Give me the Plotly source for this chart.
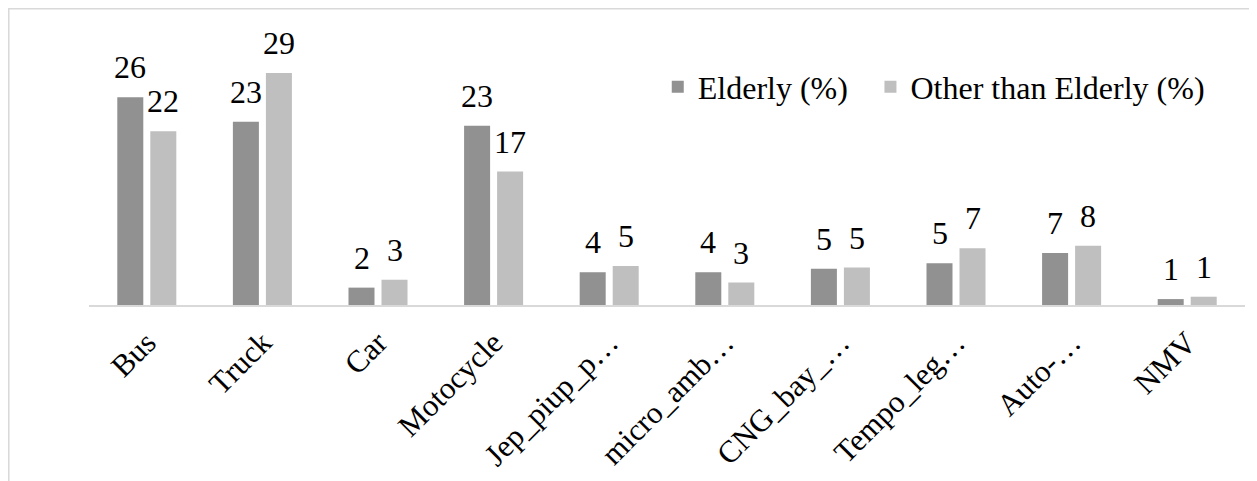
import plotly.graph_objects as go

categories = ["Bus", "Truck", "Car", "Motocycle", "Jep_piup_p…", "micro_amb…",
              "CNG_bay_…", "Tempo_leg…", "Auto-…", "NMV"]
elderly = [26.3, 23.2, 2.2, 22.7, 4.15, 4.15, 4.6, 5.3, 6.6, 0.75]
other = [22.0, 29.4, 3.2, 16.9, 4.95, 2.85, 4.75, 7.2, 7.5, 1.05]
series_names = ["Elderly (%)", "Other than Elderly (%)"]
colors = ["#919191", "#bfbfbf"]

FONT = "Times New Roman, Liberation Serif, serif"
FS = 32
TICK_FS = 31

fig = go.Figure()
for name, vals, col, lg in zip(series_names, [elderly, other], colors, ["legend", "legend2"]):
    fig.add_trace(go.Bar(x=categories, y=vals, name=name, marker_color=col,
                         marker_line_width=0, legend=lg))

annos = []
for vals, shift in [(elderly, -16.5), (other, 16.5)]:
    for c, v in zip(categories, vals):
        annos.append(dict(x=c, y=v, xref="x", yref="y", text=f"{v:.0f}",
                          showarrow=False, yanchor="bottom", xanchor="center",
                          xshift=shift, yshift=10,
                          font=dict(family=FONT, size=FS, color="#000000")))

leg_common = dict(orientation="h", xanchor="left", yanchor="middle",
                  bgcolor="rgba(0,0,0,0)", borderwidth=0,
                  font=dict(family=FONT, size=FS, color="#000000"))

fig.update_layout(
    width=1249, height=473,
    margin=dict(l=81, r=12, t=12, b=176, autoexpand=False),
    paper_bgcolor="white", plot_bgcolor="white",
    barmode="group", bargap=0.429, bargroupgap=0.212,
    font=dict(family=FONT, size=FS, color="#000000"),
    showlegend=True,
    legend=dict(x=0.492, y=0.765, **leg_common),
    legend2=dict(x=0.676, y=0.765, **leg_common),
    annotations=annos,
    shapes=[dict(type="rect", xref="paper", yref="paper",
                 x0=-0.0696, x1=1.0087, y0=-0.75, y1=1.040,
                 line=dict(color="#d9d9d9", width=2), fillcolor="rgba(0,0,0,0)",
                 layer="below")],
)
fig.update_xaxes(showline=True, linecolor="#d9d9d9", linewidth=2, ticks="",
                 tickangle=-45, showgrid=False, zeroline=False, automargin=False,
                 ticklabelstandoff=5,
                 tickfont=dict(family=FONT, size=TICK_FS, color="#000000"))
fig.update_yaxes(visible=False, range=[0, 36.1], showgrid=False, zeroline=False,
                 automargin=False)

fig.write_html("out.html")
